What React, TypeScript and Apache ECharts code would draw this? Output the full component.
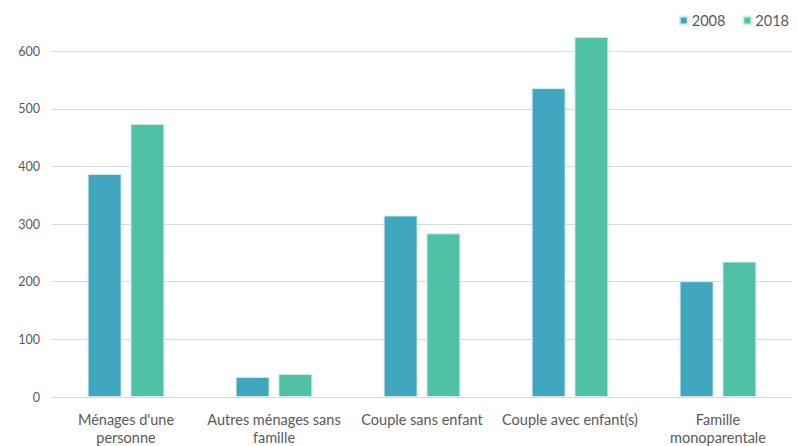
import React, { useEffect, useRef } from "react";
import * as echarts from "echarts";

const categories = [
  "Ménages d'une\npersonne",
  "Autres ménages sans\nfamille",
  "Couple sans enfant",
  "Couple avec enfant(s)",
  "Famille\nmonoparentale",
];
const values2008 = [387, 35, 315, 536, 201];
const values2018 = [474, 40, 284, 625, 235];
const seriesNames = ["2008", "2018"];
const colors = ["#41a6bf", "#50c1a7"];

export default function App() {
  const ref = useRef<HTMLDivElement>(null);
  useEffect(() => {
    const chart = echarts.init(ref.current!, null, { renderer: "svg" });
    const font = "Lato, 'Open Sans', sans-serif";
    chart.setOption({
      animation: false,
      color: colors,
      textStyle: { fontFamily: font },
      legend: {
        right: 4,
        top: 8,
        itemWidth: 8,
        itemHeight: 8,
        itemGap: 17,
        icon: "rect",
        textStyle: { color: "#595959", fontSize: 14.5, fontFamily: font, padding: [0, 0, 0, -1] },
        data: seriesNames,
      },
      grid: { left: 52, right: 6, top: 22.4, bottom: 48 },
      xAxis: {
        type: "category",
        data: categories,
        axisTick: { show: false },
        axisLine: { lineStyle: { color: "#d9d9d9", width: 1 } },
        axisLabel: {
          color: "#595959",
          fontSize: 14.5,
          margin: 13,
          lineHeight: 18,
          interval: 0,
          fontFamily: font,
        },
      },
      yAxis: {
        type: "value",
        min: 0,
        max: 650,
        interval: 100,
        axisLine: { show: false },
        axisTick: { show: false },
        axisLabel: {
          color: "#595959",
          fontSize: 12.5,
          margin: 12,
          showMaxLabel: false,
          fontFamily: font,
        },
        splitLine: { lineStyle: { color: "#d9d9d9", width: 1 }, showMaxLine: false },
      },
      series: [
        {
          name: seriesNames[0],
          type: "bar",
          data: values2008,
          barWidth: 34,
          barGap: "26%",
          itemStyle: { color: colors[0], borderColor: "#d5eef2", borderWidth: 1 },
        },
        {
          name: seriesNames[1],
          type: "bar",
          data: values2018,
          barWidth: 34,
          barGap: "26%",
          itemStyle: { color: colors[1], borderColor: "#d5f0ea", borderWidth: 1 },
        },
      ],
    });
    return () => chart.dispose();
  }, []);
  return <div ref={ref} style={{ width: 798, height: 446, position: "absolute", left: 0, top: 0 }} />;
}
